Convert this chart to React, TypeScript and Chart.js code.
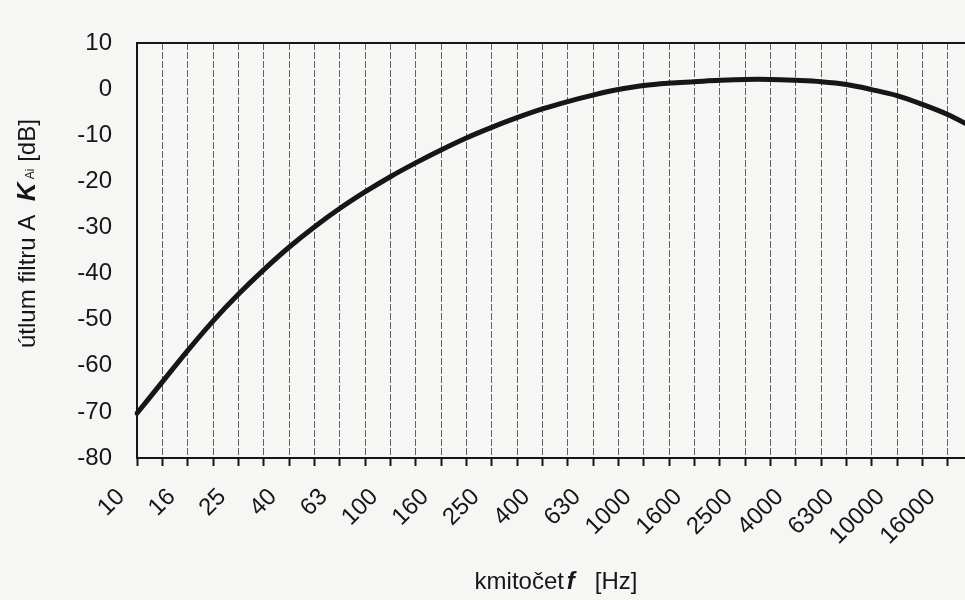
import React, { useEffect, useRef } from "react";
import { Chart, registerables } from "chart.js";

Chart.register(...registerables);

// Third-octave band centre frequencies [Hz]
const frequencies = [
  "10", "12.5", "16", "20", "25", "31.5", "40", "50", "63", "80",
  "100", "125", "160", "200", "250", "315", "400", "500", "630", "800",
  "1000", "1250", "1600", "2000", "2500", "3150", "4000", "5000", "6300", "8000",
  "10000", "12500", "16000", "20000",
];

// A-filter attenuation K_Ai [dB] for each band
const attenuation = [
  -70.3, -63.5, -56.7, -50.3, -44.5, -39.2, -34.3, -29.9, -25.9, -22.3,
  -19.0, -16.0, -13.2, -10.6, -8.3, -6.2, -4.3, -2.7, -1.3, -0.1,
  0.8, 1.3, 1.6, 1.9, 2.1, 2.1, 1.9, 1.6, 1.0, -0.1,
  -1.4, -3.3, -5.5, -8.3,
];

// Value axis range and step [dB]
const yMin = -80;
const yMax = 10;
const yStep = 10;

const FONT = '"Liberation Sans", Arial, Helvetica, sans-serif';
const INK = "#161616";
const PAPER = "#f6f6f4";

const framePlugin = {
  id: "frameAndTitles",
  afterDraw(chart: any) {
    const { ctx, chartArea } = chart;
    const { left, right, top, bottom } = chartArea;
    ctx.save();
    // top and right edges of the plot frame
    ctx.strokeStyle = INK;
    ctx.lineWidth = 2;
    ctx.beginPath();
    ctx.moveTo(left, top);
    ctx.lineTo(right, top);
    ctx.lineTo(right, bottom);
    ctx.stroke();

    ctx.fillStyle = INK;
    ctx.textBaseline = "alphabetic";

    // x-axis title: kmitočet f [Hz]
    const xParts = [
      { t: "kmitočet", f: `24px ${FONT}` },
      { t: " ", f: `10px ${FONT}` },
      { t: "f", f: `italic bold 24px ${FONT}` },
      { t: "   ", f: `24px ${FONT}` },
      { t: "[Hz]", f: `24px ${FONT}` },
    ];
    let total = 0;
    for (const p of xParts) {
      ctx.font = p.f;
      total += ctx.measureText(p.t).width;
    }
    let x = 556 - total / 2;
    for (const p of xParts) {
      ctx.font = p.f;
      ctx.fillText(p.t, x, 589);
      x += ctx.measureText(p.t).width;
    }

    // y-axis title: útlum filtru A K_Ai [dB]
    ctx.translate(35, 348);
    ctx.rotate(-Math.PI / 2);
    const yParts = [
      { t: "útlum filtru A  ", f: `24px ${FONT}`, dy: 0 },
      { t: "K", f: `italic bold 26px ${FONT}`, dy: 0 },
      { t: " Ai", f: `12px ${FONT}`, dy: -1 },
      { t: " [dB]", f: `24px ${FONT}`, dy: 0 },
    ];
    let px = 0;
    for (const p of yParts) {
      ctx.font = p.f;
      ctx.fillText(p.t, px, p.dy);
      px += ctx.measureText(p.t).width;
    }
    ctx.restore();
  },
};

export default function App() {
  const canvasRef = useRef<HTMLCanvasElement | null>(null);

  useEffect(() => {
    const canvas = canvasRef.current;
    if (!canvas) return;
    const chart = new Chart(canvas, {
      type: "line",
      data: {
        labels: frequencies,
        datasets: [
          {
            data: attenuation,
            borderColor: INK,
            borderWidth: 5,
            pointRadius: 0,
            tension: 0.35,
            fill: false,
            borderCapStyle: "round",
            borderJoinStyle: "round",
          },
        ],
      },
      options: {
        responsive: false,
        animation: false,
        devicePixelRatio: 1,
        layout: { padding: { left: 0, top: 43, right: 27, bottom: 0 } },
        plugins: {
          legend: { display: false },
          tooltip: { enabled: false },
        },
        scales: {
          x: {
            type: "category",
            offset: false,
            grid: {
              color: "rgba(60,60,60,0.8)",
              lineWidth: 1,
              tickColor: INK,
              tickLength: 8,
              tickWidth: 2,
            },
            border: { display: true, color: INK, width: 2, dash: [7, 2] },
            ticks: {
              autoSkip: false,
              minRotation: 45,
              maxRotation: 45,
              padding: 17,
              labelOffset: -16,
              color: INK,
              font: { family: FONT, size: 24 },
              callback: (_v: any, i: number) => (i % 2 === 0 ? frequencies[i] : ""),
            },
            afterFit: (scale: any) => {
              scale.height = 142;
              scale.paddingRight = 0;
            },
          },
          y: {
            min: yMin,
            max: yMax,
            grid: { display: true, drawOnChartArea: false, drawTicks: false },
            border: { display: true, color: INK, width: 2 },
            ticks: {
              stepSize: yStep,
              padding: 25,
              color: INK,
              font: { family: FONT, size: 24 },
            },
            afterFit: (scale: any) => {
              scale.width = 137;
            },
          },
        },
      },
      plugins: [framePlugin],
    });
    return () => chart.destroy();
  }, []);

  return (
    <div
      style={{
        position: "fixed",
        left: 0,
        top: 0,
        width: 965,
        height: 600,
        overflow: "hidden",
        background: PAPER,
      }}
    >
      <canvas ref={canvasRef} width={1000} height={600} style={{ display: "block" }} />
    </div>
  );
}
